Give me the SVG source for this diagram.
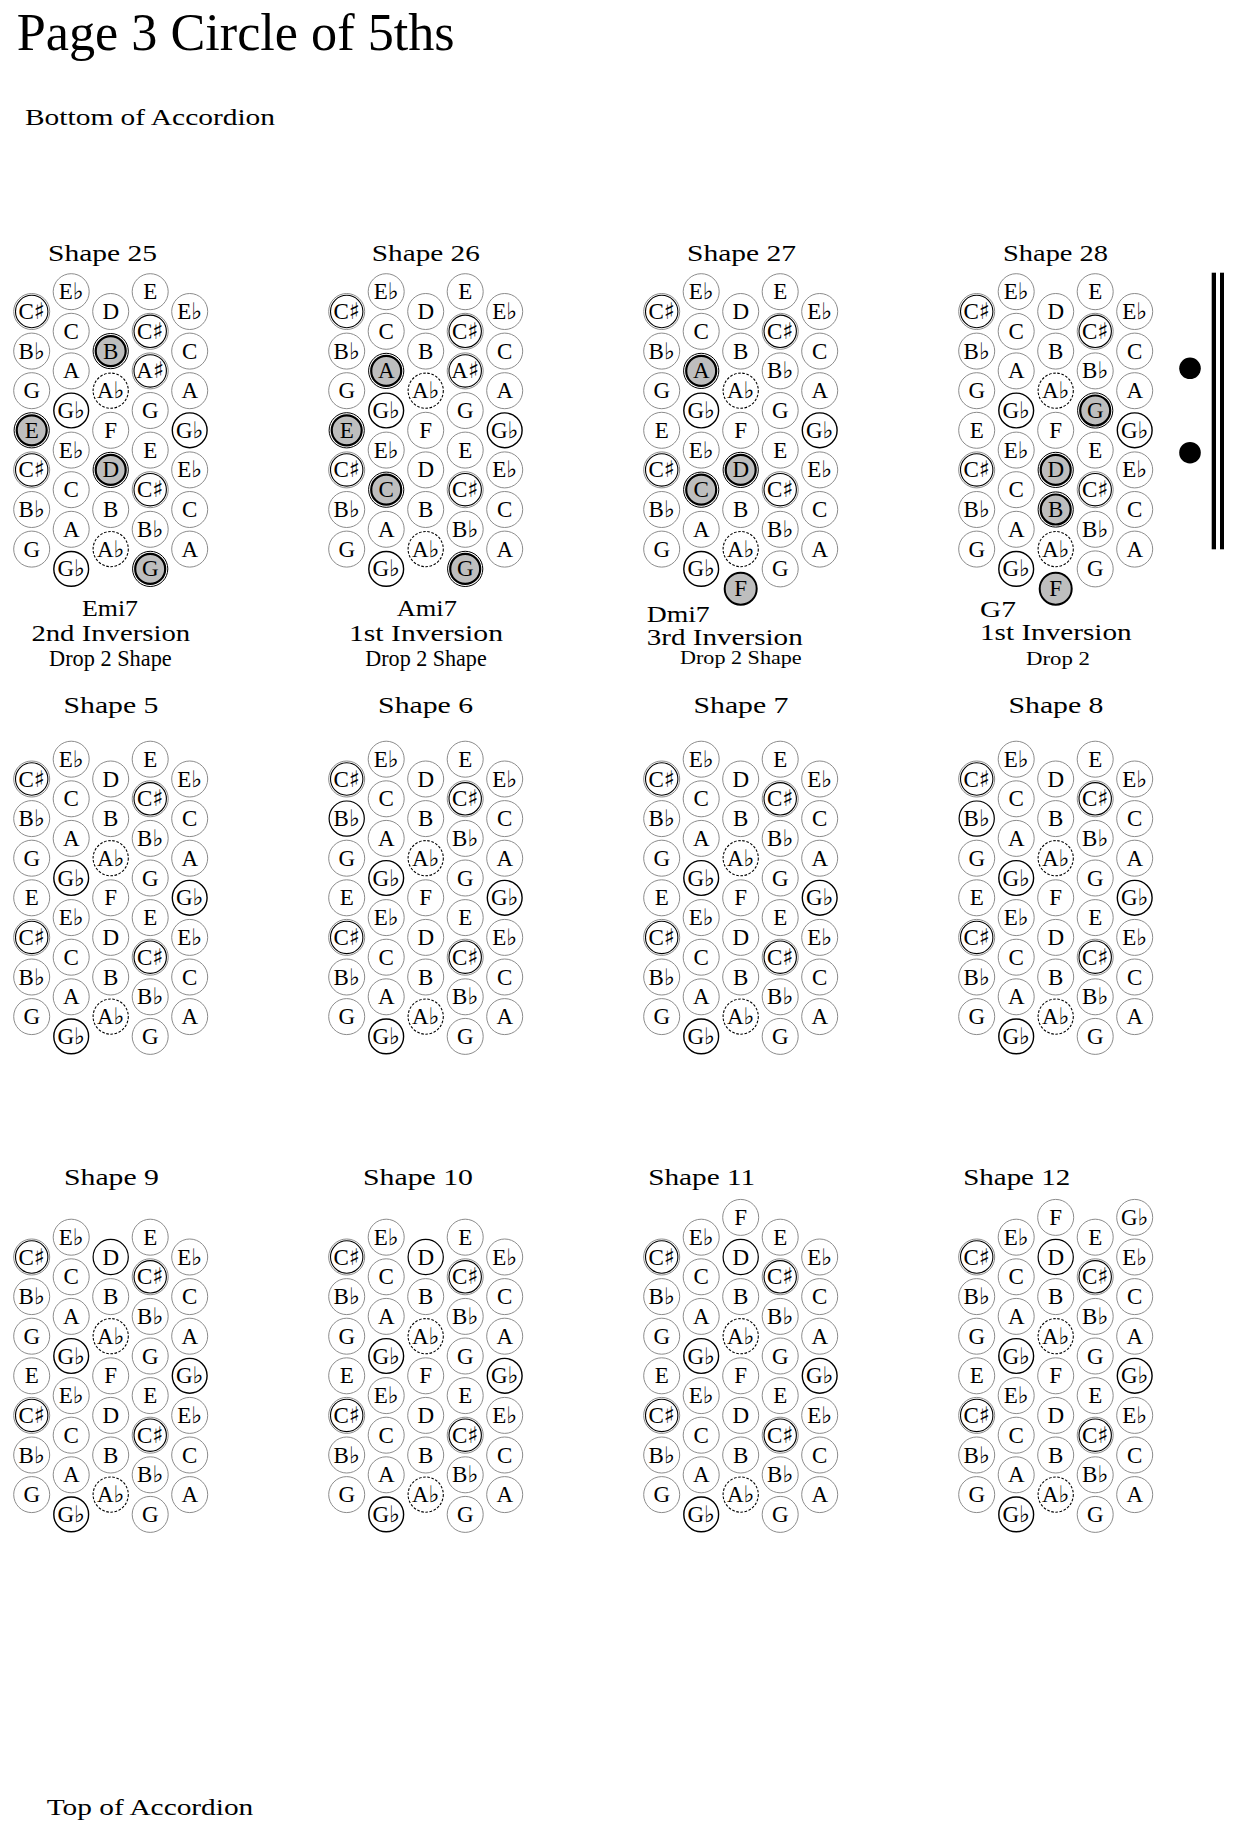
<svg xmlns="http://www.w3.org/2000/svg" width="1233" height="1831" viewBox="0 0 1233 1831">
<style>
.g circle{fill:#fff;stroke:#8c8c8c;stroke-width:1}
.g circle.i{fill:none;stroke:#000;stroke-width:1.1}
.g circle.ab{stroke:#000;stroke-width:1.1;stroke-dasharray:2.6 1.6}
.g circle.gb{stroke:#000;stroke-width:1.4}
.g circle.k{stroke:#000;stroke-width:1.2}
.g circle.ho{stroke:#000;stroke-width:1}
.g circle.hi{fill:#bebebe;stroke:#000;stroke-width:2.2}
.g circle.f{fill:#bebebe;stroke:#000;stroke-width:2}
.g text{font-family:"Liberation Serif",serif;font-size:23px;text-anchor:middle;fill:#000}
.g tspan{font-family:"DejaVu Sans",sans-serif;font-size:23px}
.t{font-family:"Liberation Serif",serif;font-size:23px;text-anchor:middle}
.l{font-family:"Liberation Serif",serif;font-size:24px}
.s{font-family:"Liberation Serif",serif;font-size:18px}
.dot{fill:#000}
</style>
<rect width="1233" height="1831" fill="#fff"/>
<g id="header">
<text x="16.7" y="50" font-family="Liberation Serif, serif" font-size="52" textLength="438" lengthAdjust="spacingAndGlyphs">Page 3 Circle of 5ths</text>
<text x="25" y="125" font-family="Liberation Serif, serif" font-size="23" textLength="250" lengthAdjust="spacingAndGlyphs">Bottom of Accordion</text>
<text x="46.7" y="1815" font-family="Liberation Serif, serif" font-size="24" textLength="206.6" lengthAdjust="spacingAndGlyphs">Top of Accordion</text>
</g>
<g id="bellows">
<rect x="1211.7" y="272.7" width="4.3" height="276.6" fill="#000"/>
<rect x="1220" y="272.7" width="4" height="276.6" fill="#000"/>
<circle class="dot" cx="1190" cy="368.3" r="10.8"/>
<circle class="dot" cx="1190" cy="452.7" r="10.8"/>
</g>

<g id="shape25">
<text class="t" x="102.5" y="260.5" textLength="109" lengthAdjust="spacingAndGlyphs">Shape 25</text>
<text class="t" x="110" y="615.6" font-size="24" textLength="56" lengthAdjust="spacingAndGlyphs">Emi7</text>
<text class="t" x="110.8" y="640.7" font-size="25" textLength="158.8" lengthAdjust="spacingAndGlyphs">2nd Inversion</text>
<text class="t" x="110.4" y="665.5" font-size="18" textLength="122.6" lengthAdjust="spacingAndGlyphs">Drop 2 Shape</text>
<g class="g" transform="translate(31.7,311.5)">
<circle cx="0" cy="0" r="18"/><circle class="i" cx="0" cy="0" r="16.2"/><text x="0" y="7.5">C<tspan>♯</tspan></text>
<circle cx="0" cy="39.6" r="18"/><text x="0" y="47.1">B<tspan>♭</tspan></text>
<circle cx="0" cy="79.2" r="18"/><text x="0" y="86.7">G</text>
<circle class="ho" cx="0" cy="118.8" r="17.6"/><circle class="hi" cx="0" cy="118.8" r="15"/><text x="0" y="126.3">E</text>
<circle cx="0" cy="158.4" r="18"/><circle class="i" cx="0" cy="158.4" r="16.2"/><text x="0" y="165.9">C<tspan>♯</tspan></text>
<circle cx="0" cy="198" r="18"/><text x="0" y="205.5">B<tspan>♭</tspan></text>
<circle cx="0" cy="237.6" r="18"/><text x="0" y="245.1">G</text>
<circle cx="39.5" cy="-19.8" r="18"/><text x="39.5" y="-12.3">E<tspan>♭</tspan></text>
<circle cx="39.5" cy="19.8" r="18"/><text x="39.5" y="27.3">C</text>
<circle cx="39.5" cy="59.4" r="18"/><text x="39.5" y="66.9">A</text>
<circle class="gb" cx="39.5" cy="99" r="17.4"/><text x="39.5" y="106.5">G<tspan>♭</tspan></text>
<circle cx="39.5" cy="138.6" r="18"/><text x="39.5" y="146.1">E<tspan>♭</tspan></text>
<circle cx="39.5" cy="178.2" r="18"/><text x="39.5" y="185.7">C</text>
<circle cx="39.5" cy="217.8" r="18"/><text x="39.5" y="225.3">A</text>
<circle class="gb" cx="39.5" cy="257.4" r="17.4"/><text x="39.5" y="264.9">G<tspan>♭</tspan></text>
<circle cx="79" cy="0" r="18"/><text x="79" y="7.5">D</text>
<circle class="ho" cx="79" cy="39.6" r="17.6"/><circle class="hi" cx="79" cy="39.6" r="15"/><text x="79" y="47.1">B</text>
<circle class="ab" cx="79" cy="79.2" r="17.6"/><text x="79" y="86.7">A<tspan>♭</tspan></text>
<circle cx="79" cy="118.8" r="18"/><text x="79" y="126.3">F</text>
<circle class="ho" cx="79" cy="158.4" r="17.6"/><circle class="hi" cx="79" cy="158.4" r="15"/><text x="79" y="165.9">D</text>
<circle cx="79" cy="198" r="18"/><text x="79" y="205.5">B</text>
<circle class="ab" cx="79" cy="237.6" r="17.6"/><text x="79" y="245.1">A<tspan>♭</tspan></text>
<circle cx="118.5" cy="-19.8" r="18"/><text x="118.5" y="-12.3">E</text>
<circle cx="118.5" cy="19.8" r="18"/><circle class="i" cx="118.5" cy="19.8" r="16.2"/><text x="118.5" y="27.3">C<tspan>♯</tspan></text>
<circle cx="118.5" cy="59.4" r="18"/><circle class="i" cx="118.5" cy="59.4" r="16.2"/><text x="118.5" y="66.9">A<tspan>♯</tspan></text>
<circle cx="118.5" cy="99" r="18"/><text x="118.5" y="106.5">G</text>
<circle cx="118.5" cy="138.6" r="18"/><text x="118.5" y="146.1">E</text>
<circle cx="118.5" cy="178.2" r="18"/><circle class="i" cx="118.5" cy="178.2" r="16.2"/><text x="118.5" y="185.7">C<tspan>♯</tspan></text>
<circle cx="118.5" cy="217.8" r="18"/><text x="118.5" y="225.3">B<tspan>♭</tspan></text>
<circle class="ho" cx="118.5" cy="257.4" r="17.6"/><circle class="hi" cx="118.5" cy="257.4" r="15"/><text x="118.5" y="264.9">G</text>
<circle cx="158" cy="0" r="18"/><text x="158" y="7.5">E<tspan>♭</tspan></text>
<circle cx="158" cy="39.6" r="18"/><text x="158" y="47.1">C</text>
<circle cx="158" cy="79.2" r="18"/><text x="158" y="86.7">A</text>
<circle class="gb" cx="158" cy="118.8" r="17.4"/><text x="158" y="126.3">G<tspan>♭</tspan></text>
<circle cx="158" cy="158.4" r="18"/><text x="158" y="165.9">E<tspan>♭</tspan></text>
<circle cx="158" cy="198" r="18"/><text x="158" y="205.5">C</text>
<circle cx="158" cy="237.6" r="18"/><text x="158" y="245.1">A</text>
</g>
</g>

<g id="shape26">
<text class="t" x="425.8" y="260.5" textLength="108" lengthAdjust="spacingAndGlyphs">Shape 26</text>
<text class="t" x="426.8" y="615.6" font-size="24" textLength="60" lengthAdjust="spacingAndGlyphs">Ami7</text>
<text class="t" x="426" y="640.7" font-size="25" textLength="154" lengthAdjust="spacingAndGlyphs">1st Inversion</text>
<text class="t" x="426" y="665.5" font-size="18" textLength="121.4" lengthAdjust="spacingAndGlyphs">Drop 2 Shape</text>
<g class="g" transform="translate(346.7,311.5)">
<circle cx="0" cy="0" r="18"/><circle class="i" cx="0" cy="0" r="16.2"/><text x="0" y="7.5">C<tspan>♯</tspan></text>
<circle cx="0" cy="39.6" r="18"/><text x="0" y="47.1">B<tspan>♭</tspan></text>
<circle cx="0" cy="79.2" r="18"/><text x="0" y="86.7">G</text>
<circle class="ho" cx="0" cy="118.8" r="17.6"/><circle class="hi" cx="0" cy="118.8" r="15"/><text x="0" y="126.3">E</text>
<circle cx="0" cy="158.4" r="18"/><circle class="i" cx="0" cy="158.4" r="16.2"/><text x="0" y="165.9">C<tspan>♯</tspan></text>
<circle cx="0" cy="198" r="18"/><text x="0" y="205.5">B<tspan>♭</tspan></text>
<circle cx="0" cy="237.6" r="18"/><text x="0" y="245.1">G</text>
<circle cx="39.5" cy="-19.8" r="18"/><text x="39.5" y="-12.3">E<tspan>♭</tspan></text>
<circle cx="39.5" cy="19.8" r="18"/><text x="39.5" y="27.3">C</text>
<circle class="ho" cx="39.5" cy="59.4" r="17.6"/><circle class="hi" cx="39.5" cy="59.4" r="15"/><text x="39.5" y="66.9">A</text>
<circle class="gb" cx="39.5" cy="99" r="17.4"/><text x="39.5" y="106.5">G<tspan>♭</tspan></text>
<circle cx="39.5" cy="138.6" r="18"/><text x="39.5" y="146.1">E<tspan>♭</tspan></text>
<circle class="ho" cx="39.5" cy="178.2" r="17.6"/><circle class="hi" cx="39.5" cy="178.2" r="15"/><text x="39.5" y="185.7">C</text>
<circle cx="39.5" cy="217.8" r="18"/><text x="39.5" y="225.3">A</text>
<circle class="gb" cx="39.5" cy="257.4" r="17.4"/><text x="39.5" y="264.9">G<tspan>♭</tspan></text>
<circle cx="79" cy="0" r="18"/><text x="79" y="7.5">D</text>
<circle cx="79" cy="39.6" r="18"/><text x="79" y="47.1">B</text>
<circle class="ab" cx="79" cy="79.2" r="17.6"/><text x="79" y="86.7">A<tspan>♭</tspan></text>
<circle cx="79" cy="118.8" r="18"/><text x="79" y="126.3">F</text>
<circle cx="79" cy="158.4" r="18"/><text x="79" y="165.9">D</text>
<circle cx="79" cy="198" r="18"/><text x="79" y="205.5">B</text>
<circle class="ab" cx="79" cy="237.6" r="17.6"/><text x="79" y="245.1">A<tspan>♭</tspan></text>
<circle cx="118.5" cy="-19.8" r="18"/><text x="118.5" y="-12.3">E</text>
<circle cx="118.5" cy="19.8" r="18"/><circle class="i" cx="118.5" cy="19.8" r="16.2"/><text x="118.5" y="27.3">C<tspan>♯</tspan></text>
<circle cx="118.5" cy="59.4" r="18"/><circle class="i" cx="118.5" cy="59.4" r="16.2"/><text x="118.5" y="66.9">A<tspan>♯</tspan></text>
<circle cx="118.5" cy="99" r="18"/><text x="118.5" y="106.5">G</text>
<circle cx="118.5" cy="138.6" r="18"/><text x="118.5" y="146.1">E</text>
<circle cx="118.5" cy="178.2" r="18"/><circle class="i" cx="118.5" cy="178.2" r="16.2"/><text x="118.5" y="185.7">C<tspan>♯</tspan></text>
<circle cx="118.5" cy="217.8" r="18"/><text x="118.5" y="225.3">B<tspan>♭</tspan></text>
<circle class="ho" cx="118.5" cy="257.4" r="17.6"/><circle class="hi" cx="118.5" cy="257.4" r="15"/><text x="118.5" y="264.9">G</text>
<circle cx="158" cy="0" r="18"/><text x="158" y="7.5">E<tspan>♭</tspan></text>
<circle cx="158" cy="39.6" r="18"/><text x="158" y="47.1">C</text>
<circle cx="158" cy="79.2" r="18"/><text x="158" y="86.7">A</text>
<circle class="gb" cx="158" cy="118.8" r="17.4"/><text x="158" y="126.3">G<tspan>♭</tspan></text>
<circle cx="158" cy="158.4" r="18"/><text x="158" y="165.9">E<tspan>♭</tspan></text>
<circle cx="158" cy="198" r="18"/><text x="158" y="205.5">C</text>
<circle cx="158" cy="237.6" r="18"/><text x="158" y="245.1">A</text>
</g>
</g>

<g id="shape27">
<text class="t" x="741.5" y="260.5" textLength="109" lengthAdjust="spacingAndGlyphs">Shape 27</text>
<text class="l" x="646.7" y="621.7" font-size="26" textLength="63" lengthAdjust="spacingAndGlyphs">Dmi7</text>
<text class="l" x="646.7" y="645" font-size="25" textLength="156" lengthAdjust="spacingAndGlyphs">3rd Inversion</text>
<text class="s" x="680" y="664" font-size="18" textLength="121.7" lengthAdjust="spacingAndGlyphs">Drop 2 Shape</text>
<g class="g" transform="translate(661.7,311.5)">
<circle cx="0" cy="0" r="18"/><circle class="i" cx="0" cy="0" r="16.2"/><text x="0" y="7.5">C<tspan>♯</tspan></text>
<circle cx="0" cy="39.6" r="18"/><text x="0" y="47.1">B<tspan>♭</tspan></text>
<circle cx="0" cy="79.2" r="18"/><text x="0" y="86.7">G</text>
<circle cx="0" cy="118.8" r="18"/><text x="0" y="126.3">E</text>
<circle cx="0" cy="158.4" r="18"/><circle class="i" cx="0" cy="158.4" r="16.2"/><text x="0" y="165.9">C<tspan>♯</tspan></text>
<circle cx="0" cy="198" r="18"/><text x="0" y="205.5">B<tspan>♭</tspan></text>
<circle cx="0" cy="237.6" r="18"/><text x="0" y="245.1">G</text>
<circle cx="39.5" cy="-19.8" r="18"/><text x="39.5" y="-12.3">E<tspan>♭</tspan></text>
<circle cx="39.5" cy="19.8" r="18"/><text x="39.5" y="27.3">C</text>
<circle class="ho" cx="39.5" cy="59.4" r="17.6"/><circle class="hi" cx="39.5" cy="59.4" r="15"/><text x="39.5" y="66.9">A</text>
<circle class="gb" cx="39.5" cy="99" r="17.4"/><text x="39.5" y="106.5">G<tspan>♭</tspan></text>
<circle cx="39.5" cy="138.6" r="18"/><text x="39.5" y="146.1">E<tspan>♭</tspan></text>
<circle class="ho" cx="39.5" cy="178.2" r="17.6"/><circle class="hi" cx="39.5" cy="178.2" r="15"/><text x="39.5" y="185.7">C</text>
<circle cx="39.5" cy="217.8" r="18"/><text x="39.5" y="225.3">A</text>
<circle class="gb" cx="39.5" cy="257.4" r="17.4"/><text x="39.5" y="264.9">G<tspan>♭</tspan></text>
<circle cx="79" cy="0" r="18"/><text x="79" y="7.5">D</text>
<circle cx="79" cy="39.6" r="18"/><text x="79" y="47.1">B</text>
<circle class="ab" cx="79" cy="79.2" r="17.6"/><text x="79" y="86.7">A<tspan>♭</tspan></text>
<circle cx="79" cy="118.8" r="18"/><text x="79" y="126.3">F</text>
<circle class="ho" cx="79" cy="158.4" r="17.6"/><circle class="hi" cx="79" cy="158.4" r="15"/><text x="79" y="165.9">D</text>
<circle cx="79" cy="198" r="18"/><text x="79" y="205.5">B</text>
<circle class="ab" cx="79" cy="237.6" r="17.6"/><text x="79" y="245.1">A<tspan>♭</tspan></text>
<circle class="f" cx="79" cy="277.2" r="16"/><text x="79" y="284.7">F</text>
<circle cx="118.5" cy="-19.8" r="18"/><text x="118.5" y="-12.3">E</text>
<circle cx="118.5" cy="19.8" r="18"/><circle class="i" cx="118.5" cy="19.8" r="16.2"/><text x="118.5" y="27.3">C<tspan>♯</tspan></text>
<circle cx="118.5" cy="59.4" r="18"/><text x="118.5" y="66.9">B<tspan>♭</tspan></text>
<circle cx="118.5" cy="99" r="18"/><text x="118.5" y="106.5">G</text>
<circle cx="118.5" cy="138.6" r="18"/><text x="118.5" y="146.1">E</text>
<circle cx="118.5" cy="178.2" r="18"/><circle class="i" cx="118.5" cy="178.2" r="16.2"/><text x="118.5" y="185.7">C<tspan>♯</tspan></text>
<circle cx="118.5" cy="217.8" r="18"/><text x="118.5" y="225.3">B<tspan>♭</tspan></text>
<circle cx="118.5" cy="257.4" r="18"/><text x="118.5" y="264.9">G</text>
<circle cx="158" cy="0" r="18"/><text x="158" y="7.5">E<tspan>♭</tspan></text>
<circle cx="158" cy="39.6" r="18"/><text x="158" y="47.1">C</text>
<circle cx="158" cy="79.2" r="18"/><text x="158" y="86.7">A</text>
<circle class="gb" cx="158" cy="118.8" r="17.4"/><text x="158" y="126.3">G<tspan>♭</tspan></text>
<circle cx="158" cy="158.4" r="18"/><text x="158" y="165.9">E<tspan>♭</tspan></text>
<circle cx="158" cy="198" r="18"/><text x="158" y="205.5">C</text>
<circle cx="158" cy="237.6" r="18"/><text x="158" y="245.1">A</text>
</g>
</g>

<g id="shape28">
<text class="t" x="1055.5" y="260.5" textLength="105" lengthAdjust="spacingAndGlyphs">Shape 28</text>
<text class="l" x="980" y="616.7" textLength="36" lengthAdjust="spacingAndGlyphs">G7</text>
<text class="l" x="980" y="640" textLength="151.7" lengthAdjust="spacingAndGlyphs">1st Inversion</text>
<text class="s" x="1026" y="665" textLength="64" lengthAdjust="spacingAndGlyphs">Drop 2</text>
<g class="g" transform="translate(976.7,311.5)">
<circle cx="0" cy="0" r="18"/><circle class="i" cx="0" cy="0" r="16.2"/><text x="0" y="7.5">C<tspan>♯</tspan></text>
<circle cx="0" cy="39.6" r="18"/><text x="0" y="47.1">B<tspan>♭</tspan></text>
<circle cx="0" cy="79.2" r="18"/><text x="0" y="86.7">G</text>
<circle cx="0" cy="118.8" r="18"/><text x="0" y="126.3">E</text>
<circle cx="0" cy="158.4" r="18"/><circle class="i" cx="0" cy="158.4" r="16.2"/><text x="0" y="165.9">C<tspan>♯</tspan></text>
<circle cx="0" cy="198" r="18"/><text x="0" y="205.5">B<tspan>♭</tspan></text>
<circle cx="0" cy="237.6" r="18"/><text x="0" y="245.1">G</text>
<circle cx="39.5" cy="-19.8" r="18"/><text x="39.5" y="-12.3">E<tspan>♭</tspan></text>
<circle cx="39.5" cy="19.8" r="18"/><text x="39.5" y="27.3">C</text>
<circle cx="39.5" cy="59.4" r="18"/><text x="39.5" y="66.9">A</text>
<circle class="gb" cx="39.5" cy="99" r="17.4"/><text x="39.5" y="106.5">G<tspan>♭</tspan></text>
<circle cx="39.5" cy="138.6" r="18"/><text x="39.5" y="146.1">E<tspan>♭</tspan></text>
<circle cx="39.5" cy="178.2" r="18"/><text x="39.5" y="185.7">C</text>
<circle cx="39.5" cy="217.8" r="18"/><text x="39.5" y="225.3">A</text>
<circle class="gb" cx="39.5" cy="257.4" r="17.4"/><text x="39.5" y="264.9">G<tspan>♭</tspan></text>
<circle cx="79" cy="0" r="18"/><text x="79" y="7.5">D</text>
<circle cx="79" cy="39.6" r="18"/><text x="79" y="47.1">B</text>
<circle class="ab" cx="79" cy="79.2" r="17.6"/><text x="79" y="86.7">A<tspan>♭</tspan></text>
<circle cx="79" cy="118.8" r="18"/><text x="79" y="126.3">F</text>
<circle class="ho" cx="79" cy="158.4" r="17.6"/><circle class="hi" cx="79" cy="158.4" r="15"/><text x="79" y="165.9">D</text>
<circle class="ho" cx="79" cy="198" r="17.6"/><circle class="hi" cx="79" cy="198" r="15"/><text x="79" y="205.5">B</text>
<circle class="ab" cx="79" cy="237.6" r="17.6"/><text x="79" y="245.1">A<tspan>♭</tspan></text>
<circle class="f" cx="79" cy="277.2" r="16"/><text x="79" y="284.7">F</text>
<circle cx="118.5" cy="-19.8" r="18"/><text x="118.5" y="-12.3">E</text>
<circle cx="118.5" cy="19.8" r="18"/><circle class="i" cx="118.5" cy="19.8" r="16.2"/><text x="118.5" y="27.3">C<tspan>♯</tspan></text>
<circle cx="118.5" cy="59.4" r="18"/><text x="118.5" y="66.9">B<tspan>♭</tspan></text>
<circle class="ho" cx="118.5" cy="99" r="17.6"/><circle class="hi" cx="118.5" cy="99" r="15"/><text x="118.5" y="106.5">G</text>
<circle cx="118.5" cy="138.6" r="18"/><text x="118.5" y="146.1">E</text>
<circle cx="118.5" cy="178.2" r="18"/><circle class="i" cx="118.5" cy="178.2" r="16.2"/><text x="118.5" y="185.7">C<tspan>♯</tspan></text>
<circle cx="118.5" cy="217.8" r="18"/><text x="118.5" y="225.3">B<tspan>♭</tspan></text>
<circle cx="118.5" cy="257.4" r="18"/><text x="118.5" y="264.9">G</text>
<circle cx="158" cy="0" r="18"/><text x="158" y="7.5">E<tspan>♭</tspan></text>
<circle cx="158" cy="39.6" r="18"/><text x="158" y="47.1">C</text>
<circle cx="158" cy="79.2" r="18"/><text x="158" y="86.7">A</text>
<circle class="gb" cx="158" cy="118.8" r="17.4"/><text x="158" y="126.3">G<tspan>♭</tspan></text>
<circle cx="158" cy="158.4" r="18"/><text x="158" y="165.9">E<tspan>♭</tspan></text>
<circle cx="158" cy="198" r="18"/><text x="158" y="205.5">C</text>
<circle cx="158" cy="237.6" r="18"/><text x="158" y="245.1">A</text>
</g>
</g>

<g id="shape5">
<text class="t" x="111" y="713.3" textLength="95" lengthAdjust="spacingAndGlyphs">Shape 5</text>
<g class="g" transform="translate(31.7,779)">
<circle cx="0" cy="0" r="18"/><circle class="i" cx="0" cy="0" r="16.2"/><text x="0" y="7.5">C<tspan>♯</tspan></text>
<circle cx="0" cy="39.6" r="18"/><text x="0" y="47.1">B<tspan>♭</tspan></text>
<circle cx="0" cy="79.2" r="18"/><text x="0" y="86.7">G</text>
<circle cx="0" cy="118.8" r="18"/><text x="0" y="126.3">E</text>
<circle cx="0" cy="158.4" r="18"/><circle class="i" cx="0" cy="158.4" r="16.2"/><text x="0" y="165.9">C<tspan>♯</tspan></text>
<circle cx="0" cy="198" r="18"/><text x="0" y="205.5">B<tspan>♭</tspan></text>
<circle cx="0" cy="237.6" r="18"/><text x="0" y="245.1">G</text>
<circle cx="39.5" cy="-19.8" r="18"/><text x="39.5" y="-12.3">E<tspan>♭</tspan></text>
<circle cx="39.5" cy="19.8" r="18"/><text x="39.5" y="27.3">C</text>
<circle cx="39.5" cy="59.4" r="18"/><text x="39.5" y="66.9">A</text>
<circle class="gb" cx="39.5" cy="99" r="17.4"/><text x="39.5" y="106.5">G<tspan>♭</tspan></text>
<circle cx="39.5" cy="138.6" r="18"/><text x="39.5" y="146.1">E<tspan>♭</tspan></text>
<circle cx="39.5" cy="178.2" r="18"/><text x="39.5" y="185.7">C</text>
<circle cx="39.5" cy="217.8" r="18"/><text x="39.5" y="225.3">A</text>
<circle class="gb" cx="39.5" cy="257.4" r="17.4"/><text x="39.5" y="264.9">G<tspan>♭</tspan></text>
<circle cx="79" cy="0" r="18"/><text x="79" y="7.5">D</text>
<circle cx="79" cy="39.6" r="18"/><text x="79" y="47.1">B</text>
<circle class="ab" cx="79" cy="79.2" r="17.6"/><text x="79" y="86.7">A<tspan>♭</tspan></text>
<circle cx="79" cy="118.8" r="18"/><text x="79" y="126.3">F</text>
<circle cx="79" cy="158.4" r="18"/><text x="79" y="165.9">D</text>
<circle cx="79" cy="198" r="18"/><text x="79" y="205.5">B</text>
<circle class="ab" cx="79" cy="237.6" r="17.6"/><text x="79" y="245.1">A<tspan>♭</tspan></text>
<circle cx="118.5" cy="-19.8" r="18"/><text x="118.5" y="-12.3">E</text>
<circle cx="118.5" cy="19.8" r="18"/><circle class="i" cx="118.5" cy="19.8" r="16.2"/><text x="118.5" y="27.3">C<tspan>♯</tspan></text>
<circle cx="118.5" cy="59.4" r="18"/><text x="118.5" y="66.9">B<tspan>♭</tspan></text>
<circle cx="118.5" cy="99" r="18"/><text x="118.5" y="106.5">G</text>
<circle cx="118.5" cy="138.6" r="18"/><text x="118.5" y="146.1">E</text>
<circle cx="118.5" cy="178.2" r="18"/><circle class="i" cx="118.5" cy="178.2" r="16.2"/><text x="118.5" y="185.7">C<tspan>♯</tspan></text>
<circle cx="118.5" cy="217.8" r="18"/><text x="118.5" y="225.3">B<tspan>♭</tspan></text>
<circle cx="118.5" cy="257.4" r="18"/><text x="118.5" y="264.9">G</text>
<circle cx="158" cy="0" r="18"/><text x="158" y="7.5">E<tspan>♭</tspan></text>
<circle cx="158" cy="39.6" r="18"/><text x="158" y="47.1">C</text>
<circle cx="158" cy="79.2" r="18"/><text x="158" y="86.7">A</text>
<circle class="gb" cx="158" cy="118.8" r="17.4"/><text x="158" y="126.3">G<tspan>♭</tspan></text>
<circle cx="158" cy="158.4" r="18"/><text x="158" y="165.9">E<tspan>♭</tspan></text>
<circle cx="158" cy="198" r="18"/><text x="158" y="205.5">C</text>
<circle cx="158" cy="237.6" r="18"/><text x="158" y="245.1">A</text>
</g>
</g>

<g id="shape6">
<text class="t" x="425.6" y="713.3" textLength="95" lengthAdjust="spacingAndGlyphs">Shape 6</text>
<g class="g" transform="translate(346.7,779)">
<circle cx="0" cy="0" r="18"/><circle class="i" cx="0" cy="0" r="16.2"/><text x="0" y="7.5">C<tspan>♯</tspan></text>
<circle class="k" cx="0" cy="39.6" r="17.6"/><text x="0" y="47.1">B<tspan>♭</tspan></text>
<circle cx="0" cy="79.2" r="18"/><text x="0" y="86.7">G</text>
<circle cx="0" cy="118.8" r="18"/><text x="0" y="126.3">E</text>
<circle cx="0" cy="158.4" r="18"/><circle class="i" cx="0" cy="158.4" r="16.2"/><text x="0" y="165.9">C<tspan>♯</tspan></text>
<circle cx="0" cy="198" r="18"/><text x="0" y="205.5">B<tspan>♭</tspan></text>
<circle cx="0" cy="237.6" r="18"/><text x="0" y="245.1">G</text>
<circle cx="39.5" cy="-19.8" r="18"/><text x="39.5" y="-12.3">E<tspan>♭</tspan></text>
<circle cx="39.5" cy="19.8" r="18"/><text x="39.5" y="27.3">C</text>
<circle cx="39.5" cy="59.4" r="18"/><text x="39.5" y="66.9">A</text>
<circle class="gb" cx="39.5" cy="99" r="17.4"/><text x="39.5" y="106.5">G<tspan>♭</tspan></text>
<circle cx="39.5" cy="138.6" r="18"/><text x="39.5" y="146.1">E<tspan>♭</tspan></text>
<circle cx="39.5" cy="178.2" r="18"/><text x="39.5" y="185.7">C</text>
<circle cx="39.5" cy="217.8" r="18"/><text x="39.5" y="225.3">A</text>
<circle class="gb" cx="39.5" cy="257.4" r="17.4"/><text x="39.5" y="264.9">G<tspan>♭</tspan></text>
<circle cx="79" cy="0" r="18"/><text x="79" y="7.5">D</text>
<circle cx="79" cy="39.6" r="18"/><text x="79" y="47.1">B</text>
<circle class="ab" cx="79" cy="79.2" r="17.6"/><text x="79" y="86.7">A<tspan>♭</tspan></text>
<circle cx="79" cy="118.8" r="18"/><text x="79" y="126.3">F</text>
<circle cx="79" cy="158.4" r="18"/><text x="79" y="165.9">D</text>
<circle cx="79" cy="198" r="18"/><text x="79" y="205.5">B</text>
<circle class="ab" cx="79" cy="237.6" r="17.6"/><text x="79" y="245.1">A<tspan>♭</tspan></text>
<circle cx="118.5" cy="-19.8" r="18"/><text x="118.5" y="-12.3">E</text>
<circle cx="118.5" cy="19.8" r="18"/><circle class="i" cx="118.5" cy="19.8" r="16.2"/><text x="118.5" y="27.3">C<tspan>♯</tspan></text>
<circle cx="118.5" cy="59.4" r="18"/><text x="118.5" y="66.9">B<tspan>♭</tspan></text>
<circle cx="118.5" cy="99" r="18"/><text x="118.5" y="106.5">G</text>
<circle cx="118.5" cy="138.6" r="18"/><text x="118.5" y="146.1">E</text>
<circle cx="118.5" cy="178.2" r="18"/><circle class="i" cx="118.5" cy="178.2" r="16.2"/><text x="118.5" y="185.7">C<tspan>♯</tspan></text>
<circle cx="118.5" cy="217.8" r="18"/><text x="118.5" y="225.3">B<tspan>♭</tspan></text>
<circle cx="118.5" cy="257.4" r="18"/><text x="118.5" y="264.9">G</text>
<circle cx="158" cy="0" r="18"/><text x="158" y="7.5">E<tspan>♭</tspan></text>
<circle cx="158" cy="39.6" r="18"/><text x="158" y="47.1">C</text>
<circle cx="158" cy="79.2" r="18"/><text x="158" y="86.7">A</text>
<circle class="gb" cx="158" cy="118.8" r="17.4"/><text x="158" y="126.3">G<tspan>♭</tspan></text>
<circle cx="158" cy="158.4" r="18"/><text x="158" y="165.9">E<tspan>♭</tspan></text>
<circle cx="158" cy="198" r="18"/><text x="158" y="205.5">C</text>
<circle cx="158" cy="237.6" r="18"/><text x="158" y="245.1">A</text>
</g>
</g>

<g id="shape7">
<text class="t" x="741" y="713.3" textLength="95" lengthAdjust="spacingAndGlyphs">Shape 7</text>
<g class="g" transform="translate(661.7,779)">
<circle cx="0" cy="0" r="18"/><circle class="i" cx="0" cy="0" r="16.2"/><text x="0" y="7.5">C<tspan>♯</tspan></text>
<circle cx="0" cy="39.6" r="18"/><text x="0" y="47.1">B<tspan>♭</tspan></text>
<circle cx="0" cy="79.2" r="18"/><text x="0" y="86.7">G</text>
<circle cx="0" cy="118.8" r="18"/><text x="0" y="126.3">E</text>
<circle cx="0" cy="158.4" r="18"/><circle class="i" cx="0" cy="158.4" r="16.2"/><text x="0" y="165.9">C<tspan>♯</tspan></text>
<circle cx="0" cy="198" r="18"/><text x="0" y="205.5">B<tspan>♭</tspan></text>
<circle cx="0" cy="237.6" r="18"/><text x="0" y="245.1">G</text>
<circle cx="39.5" cy="-19.8" r="18"/><text x="39.5" y="-12.3">E<tspan>♭</tspan></text>
<circle cx="39.5" cy="19.8" r="18"/><text x="39.5" y="27.3">C</text>
<circle cx="39.5" cy="59.4" r="18"/><text x="39.5" y="66.9">A</text>
<circle class="gb" cx="39.5" cy="99" r="17.4"/><text x="39.5" y="106.5">G<tspan>♭</tspan></text>
<circle cx="39.5" cy="138.6" r="18"/><text x="39.5" y="146.1">E<tspan>♭</tspan></text>
<circle cx="39.5" cy="178.2" r="18"/><text x="39.5" y="185.7">C</text>
<circle cx="39.5" cy="217.8" r="18"/><text x="39.5" y="225.3">A</text>
<circle class="gb" cx="39.5" cy="257.4" r="17.4"/><text x="39.5" y="264.9">G<tspan>♭</tspan></text>
<circle cx="79" cy="0" r="18"/><text x="79" y="7.5">D</text>
<circle cx="79" cy="39.6" r="18"/><text x="79" y="47.1">B</text>
<circle class="ab" cx="79" cy="79.2" r="17.6"/><text x="79" y="86.7">A<tspan>♭</tspan></text>
<circle cx="79" cy="118.8" r="18"/><text x="79" y="126.3">F</text>
<circle cx="79" cy="158.4" r="18"/><text x="79" y="165.9">D</text>
<circle cx="79" cy="198" r="18"/><text x="79" y="205.5">B</text>
<circle class="ab" cx="79" cy="237.6" r="17.6"/><text x="79" y="245.1">A<tspan>♭</tspan></text>
<circle cx="118.5" cy="-19.8" r="18"/><text x="118.5" y="-12.3">E</text>
<circle cx="118.5" cy="19.8" r="18"/><circle class="i" cx="118.5" cy="19.8" r="16.2"/><text x="118.5" y="27.3">C<tspan>♯</tspan></text>
<circle cx="118.5" cy="59.4" r="18"/><text x="118.5" y="66.9">B<tspan>♭</tspan></text>
<circle cx="118.5" cy="99" r="18"/><text x="118.5" y="106.5">G</text>
<circle cx="118.5" cy="138.6" r="18"/><text x="118.5" y="146.1">E</text>
<circle cx="118.5" cy="178.2" r="18"/><circle class="i" cx="118.5" cy="178.2" r="16.2"/><text x="118.5" y="185.7">C<tspan>♯</tspan></text>
<circle cx="118.5" cy="217.8" r="18"/><text x="118.5" y="225.3">B<tspan>♭</tspan></text>
<circle cx="118.5" cy="257.4" r="18"/><text x="118.5" y="264.9">G</text>
<circle cx="158" cy="0" r="18"/><text x="158" y="7.5">E<tspan>♭</tspan></text>
<circle cx="158" cy="39.6" r="18"/><text x="158" y="47.1">C</text>
<circle cx="158" cy="79.2" r="18"/><text x="158" y="86.7">A</text>
<circle class="gb" cx="158" cy="118.8" r="17.4"/><text x="158" y="126.3">G<tspan>♭</tspan></text>
<circle cx="158" cy="158.4" r="18"/><text x="158" y="165.9">E<tspan>♭</tspan></text>
<circle cx="158" cy="198" r="18"/><text x="158" y="205.5">C</text>
<circle cx="158" cy="237.6" r="18"/><text x="158" y="245.1">A</text>
</g>
</g>

<g id="shape8">
<text class="t" x="1056" y="713.3" textLength="95" lengthAdjust="spacingAndGlyphs">Shape 8</text>
<g class="g" transform="translate(976.7,779)">
<circle cx="0" cy="0" r="18"/><circle class="i" cx="0" cy="0" r="16.2"/><text x="0" y="7.5">C<tspan>♯</tspan></text>
<circle class="k" cx="0" cy="39.6" r="17.6"/><text x="0" y="47.1">B<tspan>♭</tspan></text>
<circle cx="0" cy="79.2" r="18"/><text x="0" y="86.7">G</text>
<circle cx="0" cy="118.8" r="18"/><text x="0" y="126.3">E</text>
<circle cx="0" cy="158.4" r="18"/><circle class="i" cx="0" cy="158.4" r="16.2"/><text x="0" y="165.9">C<tspan>♯</tspan></text>
<circle cx="0" cy="198" r="18"/><text x="0" y="205.5">B<tspan>♭</tspan></text>
<circle cx="0" cy="237.6" r="18"/><text x="0" y="245.1">G</text>
<circle cx="39.5" cy="-19.8" r="18"/><text x="39.5" y="-12.3">E<tspan>♭</tspan></text>
<circle cx="39.5" cy="19.8" r="18"/><text x="39.5" y="27.3">C</text>
<circle cx="39.5" cy="59.4" r="18"/><text x="39.5" y="66.9">A</text>
<circle class="gb" cx="39.5" cy="99" r="17.4"/><text x="39.5" y="106.5">G<tspan>♭</tspan></text>
<circle cx="39.5" cy="138.6" r="18"/><text x="39.5" y="146.1">E<tspan>♭</tspan></text>
<circle cx="39.5" cy="178.2" r="18"/><text x="39.5" y="185.7">C</text>
<circle cx="39.5" cy="217.8" r="18"/><text x="39.5" y="225.3">A</text>
<circle class="gb" cx="39.5" cy="257.4" r="17.4"/><text x="39.5" y="264.9">G<tspan>♭</tspan></text>
<circle cx="79" cy="0" r="18"/><text x="79" y="7.5">D</text>
<circle cx="79" cy="39.6" r="18"/><text x="79" y="47.1">B</text>
<circle class="ab" cx="79" cy="79.2" r="17.6"/><text x="79" y="86.7">A<tspan>♭</tspan></text>
<circle cx="79" cy="118.8" r="18"/><text x="79" y="126.3">F</text>
<circle cx="79" cy="158.4" r="18"/><text x="79" y="165.9">D</text>
<circle cx="79" cy="198" r="18"/><text x="79" y="205.5">B</text>
<circle class="ab" cx="79" cy="237.6" r="17.6"/><text x="79" y="245.1">A<tspan>♭</tspan></text>
<circle cx="118.5" cy="-19.8" r="18"/><text x="118.5" y="-12.3">E</text>
<circle cx="118.5" cy="19.8" r="18"/><circle class="i" cx="118.5" cy="19.8" r="16.2"/><text x="118.5" y="27.3">C<tspan>♯</tspan></text>
<circle cx="118.5" cy="59.4" r="18"/><text x="118.5" y="66.9">B<tspan>♭</tspan></text>
<circle cx="118.5" cy="99" r="18"/><text x="118.5" y="106.5">G</text>
<circle cx="118.5" cy="138.6" r="18"/><text x="118.5" y="146.1">E</text>
<circle cx="118.5" cy="178.2" r="18"/><circle class="i" cx="118.5" cy="178.2" r="16.2"/><text x="118.5" y="185.7">C<tspan>♯</tspan></text>
<circle cx="118.5" cy="217.8" r="18"/><text x="118.5" y="225.3">B<tspan>♭</tspan></text>
<circle cx="118.5" cy="257.4" r="18"/><text x="118.5" y="264.9">G</text>
<circle cx="158" cy="0" r="18"/><text x="158" y="7.5">E<tspan>♭</tspan></text>
<circle cx="158" cy="39.6" r="18"/><text x="158" y="47.1">C</text>
<circle cx="158" cy="79.2" r="18"/><text x="158" y="86.7">A</text>
<circle class="gb" cx="158" cy="118.8" r="17.4"/><text x="158" y="126.3">G<tspan>♭</tspan></text>
<circle cx="158" cy="158.4" r="18"/><text x="158" y="165.9">E<tspan>♭</tspan></text>
<circle cx="158" cy="198" r="18"/><text x="158" y="205.5">C</text>
<circle cx="158" cy="237.6" r="18"/><text x="158" y="245.1">A</text>
</g>
</g>

<g id="shape9">
<text class="t" x="111.5" y="1185" textLength="95" lengthAdjust="spacingAndGlyphs">Shape 9</text>
<g class="g" transform="translate(31.7,1257)">
<circle cx="0" cy="0" r="18"/><circle class="i" cx="0" cy="0" r="16.2"/><text x="0" y="7.5">C<tspan>♯</tspan></text>
<circle cx="0" cy="39.6" r="18"/><text x="0" y="47.1">B<tspan>♭</tspan></text>
<circle cx="0" cy="79.2" r="18"/><text x="0" y="86.7">G</text>
<circle cx="0" cy="118.8" r="18"/><text x="0" y="126.3">E</text>
<circle cx="0" cy="158.4" r="18"/><circle class="i" cx="0" cy="158.4" r="16.2"/><text x="0" y="165.9">C<tspan>♯</tspan></text>
<circle cx="0" cy="198" r="18"/><text x="0" y="205.5">B<tspan>♭</tspan></text>
<circle cx="0" cy="237.6" r="18"/><text x="0" y="245.1">G</text>
<circle cx="39.5" cy="-19.8" r="18"/><text x="39.5" y="-12.3">E<tspan>♭</tspan></text>
<circle cx="39.5" cy="19.8" r="18"/><text x="39.5" y="27.3">C</text>
<circle cx="39.5" cy="59.4" r="18"/><text x="39.5" y="66.9">A</text>
<circle class="gb" cx="39.5" cy="99" r="17.4"/><text x="39.5" y="106.5">G<tspan>♭</tspan></text>
<circle cx="39.5" cy="138.6" r="18"/><text x="39.5" y="146.1">E<tspan>♭</tspan></text>
<circle cx="39.5" cy="178.2" r="18"/><text x="39.5" y="185.7">C</text>
<circle cx="39.5" cy="217.8" r="18"/><text x="39.5" y="225.3">A</text>
<circle class="gb" cx="39.5" cy="257.4" r="17.4"/><text x="39.5" y="264.9">G<tspan>♭</tspan></text>
<circle class="k" cx="79" cy="0" r="17.6"/><text x="79" y="7.5">D</text>
<circle cx="79" cy="39.6" r="18"/><text x="79" y="47.1">B</text>
<circle class="ab" cx="79" cy="79.2" r="17.6"/><text x="79" y="86.7">A<tspan>♭</tspan></text>
<circle cx="79" cy="118.8" r="18"/><text x="79" y="126.3">F</text>
<circle cx="79" cy="158.4" r="18"/><text x="79" y="165.9">D</text>
<circle cx="79" cy="198" r="18"/><text x="79" y="205.5">B</text>
<circle class="ab" cx="79" cy="237.6" r="17.6"/><text x="79" y="245.1">A<tspan>♭</tspan></text>
<circle cx="118.5" cy="-19.8" r="18"/><text x="118.5" y="-12.3">E</text>
<circle cx="118.5" cy="19.8" r="18"/><circle class="i" cx="118.5" cy="19.8" r="16.2"/><text x="118.5" y="27.3">C<tspan>♯</tspan></text>
<circle cx="118.5" cy="59.4" r="18"/><text x="118.5" y="66.9">B<tspan>♭</tspan></text>
<circle cx="118.5" cy="99" r="18"/><text x="118.5" y="106.5">G</text>
<circle cx="118.5" cy="138.6" r="18"/><text x="118.5" y="146.1">E</text>
<circle cx="118.5" cy="178.2" r="18"/><circle class="i" cx="118.5" cy="178.2" r="16.2"/><text x="118.5" y="185.7">C<tspan>♯</tspan></text>
<circle cx="118.5" cy="217.8" r="18"/><text x="118.5" y="225.3">B<tspan>♭</tspan></text>
<circle cx="118.5" cy="257.4" r="18"/><text x="118.5" y="264.9">G</text>
<circle cx="158" cy="0" r="18"/><text x="158" y="7.5">E<tspan>♭</tspan></text>
<circle cx="158" cy="39.6" r="18"/><text x="158" y="47.1">C</text>
<circle cx="158" cy="79.2" r="18"/><text x="158" y="86.7">A</text>
<circle class="gb" cx="158" cy="118.8" r="17.4"/><text x="158" y="126.3">G<tspan>♭</tspan></text>
<circle cx="158" cy="158.4" r="18"/><text x="158" y="165.9">E<tspan>♭</tspan></text>
<circle cx="158" cy="198" r="18"/><text x="158" y="205.5">C</text>
<circle cx="158" cy="237.6" r="18"/><text x="158" y="245.1">A</text>
</g>
</g>

<g id="shape10">
<text class="t" x="418" y="1185" textLength="110" lengthAdjust="spacingAndGlyphs">Shape 10</text>
<g class="g" transform="translate(346.7,1257)">
<circle cx="0" cy="0" r="18"/><circle class="i" cx="0" cy="0" r="16.2"/><text x="0" y="7.5">C<tspan>♯</tspan></text>
<circle cx="0" cy="39.6" r="18"/><text x="0" y="47.1">B<tspan>♭</tspan></text>
<circle cx="0" cy="79.2" r="18"/><text x="0" y="86.7">G</text>
<circle cx="0" cy="118.8" r="18"/><text x="0" y="126.3">E</text>
<circle cx="0" cy="158.4" r="18"/><circle class="i" cx="0" cy="158.4" r="16.2"/><text x="0" y="165.9">C<tspan>♯</tspan></text>
<circle cx="0" cy="198" r="18"/><text x="0" y="205.5">B<tspan>♭</tspan></text>
<circle cx="0" cy="237.6" r="18"/><text x="0" y="245.1">G</text>
<circle cx="39.5" cy="-19.8" r="18"/><text x="39.5" y="-12.3">E<tspan>♭</tspan></text>
<circle cx="39.5" cy="19.8" r="18"/><text x="39.5" y="27.3">C</text>
<circle cx="39.5" cy="59.4" r="18"/><text x="39.5" y="66.9">A</text>
<circle class="gb" cx="39.5" cy="99" r="17.4"/><text x="39.5" y="106.5">G<tspan>♭</tspan></text>
<circle cx="39.5" cy="138.6" r="18"/><text x="39.5" y="146.1">E<tspan>♭</tspan></text>
<circle cx="39.5" cy="178.2" r="18"/><text x="39.5" y="185.7">C</text>
<circle cx="39.5" cy="217.8" r="18"/><text x="39.5" y="225.3">A</text>
<circle class="gb" cx="39.5" cy="257.4" r="17.4"/><text x="39.5" y="264.9">G<tspan>♭</tspan></text>
<circle class="k" cx="79" cy="0" r="17.6"/><text x="79" y="7.5">D</text>
<circle cx="79" cy="39.6" r="18"/><text x="79" y="47.1">B</text>
<circle class="ab" cx="79" cy="79.2" r="17.6"/><text x="79" y="86.7">A<tspan>♭</tspan></text>
<circle cx="79" cy="118.8" r="18"/><text x="79" y="126.3">F</text>
<circle cx="79" cy="158.4" r="18"/><text x="79" y="165.9">D</text>
<circle cx="79" cy="198" r="18"/><text x="79" y="205.5">B</text>
<circle class="ab" cx="79" cy="237.6" r="17.6"/><text x="79" y="245.1">A<tspan>♭</tspan></text>
<circle cx="118.5" cy="-19.8" r="18"/><text x="118.5" y="-12.3">E</text>
<circle cx="118.5" cy="19.8" r="18"/><circle class="i" cx="118.5" cy="19.8" r="16.2"/><text x="118.5" y="27.3">C<tspan>♯</tspan></text>
<circle cx="118.5" cy="59.4" r="18"/><text x="118.5" y="66.9">B<tspan>♭</tspan></text>
<circle cx="118.5" cy="99" r="18"/><text x="118.5" y="106.5">G</text>
<circle cx="118.5" cy="138.6" r="18"/><text x="118.5" y="146.1">E</text>
<circle cx="118.5" cy="178.2" r="18"/><circle class="i" cx="118.5" cy="178.2" r="16.2"/><text x="118.5" y="185.7">C<tspan>♯</tspan></text>
<circle cx="118.5" cy="217.8" r="18"/><text x="118.5" y="225.3">B<tspan>♭</tspan></text>
<circle cx="118.5" cy="257.4" r="18"/><text x="118.5" y="264.9">G</text>
<circle cx="158" cy="0" r="18"/><text x="158" y="7.5">E<tspan>♭</tspan></text>
<circle cx="158" cy="39.6" r="18"/><text x="158" y="47.1">C</text>
<circle cx="158" cy="79.2" r="18"/><text x="158" y="86.7">A</text>
<circle class="gb" cx="158" cy="118.8" r="17.4"/><text x="158" y="126.3">G<tspan>♭</tspan></text>
<circle cx="158" cy="158.4" r="18"/><text x="158" y="165.9">E<tspan>♭</tspan></text>
<circle cx="158" cy="198" r="18"/><text x="158" y="205.5">C</text>
<circle cx="158" cy="237.6" r="18"/><text x="158" y="245.1">A</text>
</g>
</g>

<g id="shape11">
<text class="t" x="701.7" y="1185" textLength="107" lengthAdjust="spacingAndGlyphs">Shape 11</text>
<g class="g" transform="translate(661.7,1257)">
<circle cx="0" cy="0" r="18"/><circle class="i" cx="0" cy="0" r="16.2"/><text x="0" y="7.5">C<tspan>♯</tspan></text>
<circle cx="0" cy="39.6" r="18"/><text x="0" y="47.1">B<tspan>♭</tspan></text>
<circle cx="0" cy="79.2" r="18"/><text x="0" y="86.7">G</text>
<circle cx="0" cy="118.8" r="18"/><text x="0" y="126.3">E</text>
<circle cx="0" cy="158.4" r="18"/><circle class="i" cx="0" cy="158.4" r="16.2"/><text x="0" y="165.9">C<tspan>♯</tspan></text>
<circle cx="0" cy="198" r="18"/><text x="0" y="205.5">B<tspan>♭</tspan></text>
<circle cx="0" cy="237.6" r="18"/><text x="0" y="245.1">G</text>
<circle cx="39.5" cy="-19.8" r="18"/><text x="39.5" y="-12.3">E<tspan>♭</tspan></text>
<circle cx="39.5" cy="19.8" r="18"/><text x="39.5" y="27.3">C</text>
<circle cx="39.5" cy="59.4" r="18"/><text x="39.5" y="66.9">A</text>
<circle class="gb" cx="39.5" cy="99" r="17.4"/><text x="39.5" y="106.5">G<tspan>♭</tspan></text>
<circle cx="39.5" cy="138.6" r="18"/><text x="39.5" y="146.1">E<tspan>♭</tspan></text>
<circle cx="39.5" cy="178.2" r="18"/><text x="39.5" y="185.7">C</text>
<circle cx="39.5" cy="217.8" r="18"/><text x="39.5" y="225.3">A</text>
<circle class="gb" cx="39.5" cy="257.4" r="17.4"/><text x="39.5" y="264.9">G<tspan>♭</tspan></text>
<circle cx="79" cy="-39.6" r="18"/><text x="79" y="-32.1">F</text>
<circle class="k" cx="79" cy="0" r="17.6"/><text x="79" y="7.5">D</text>
<circle cx="79" cy="39.6" r="18"/><text x="79" y="47.1">B</text>
<circle class="ab" cx="79" cy="79.2" r="17.6"/><text x="79" y="86.7">A<tspan>♭</tspan></text>
<circle cx="79" cy="118.8" r="18"/><text x="79" y="126.3">F</text>
<circle cx="79" cy="158.4" r="18"/><text x="79" y="165.9">D</text>
<circle cx="79" cy="198" r="18"/><text x="79" y="205.5">B</text>
<circle class="ab" cx="79" cy="237.6" r="17.6"/><text x="79" y="245.1">A<tspan>♭</tspan></text>
<circle cx="118.5" cy="-19.8" r="18"/><text x="118.5" y="-12.3">E</text>
<circle cx="118.5" cy="19.8" r="18"/><circle class="i" cx="118.5" cy="19.8" r="16.2"/><text x="118.5" y="27.3">C<tspan>♯</tspan></text>
<circle cx="118.5" cy="59.4" r="18"/><text x="118.5" y="66.9">B<tspan>♭</tspan></text>
<circle cx="118.5" cy="99" r="18"/><text x="118.5" y="106.5">G</text>
<circle cx="118.5" cy="138.6" r="18"/><text x="118.5" y="146.1">E</text>
<circle cx="118.5" cy="178.2" r="18"/><circle class="i" cx="118.5" cy="178.2" r="16.2"/><text x="118.5" y="185.7">C<tspan>♯</tspan></text>
<circle cx="118.5" cy="217.8" r="18"/><text x="118.5" y="225.3">B<tspan>♭</tspan></text>
<circle cx="118.5" cy="257.4" r="18"/><text x="118.5" y="264.9">G</text>
<circle cx="158" cy="0" r="18"/><text x="158" y="7.5">E<tspan>♭</tspan></text>
<circle cx="158" cy="39.6" r="18"/><text x="158" y="47.1">C</text>
<circle cx="158" cy="79.2" r="18"/><text x="158" y="86.7">A</text>
<circle class="gb" cx="158" cy="118.8" r="17.4"/><text x="158" y="126.3">G<tspan>♭</tspan></text>
<circle cx="158" cy="158.4" r="18"/><text x="158" y="165.9">E<tspan>♭</tspan></text>
<circle cx="158" cy="198" r="18"/><text x="158" y="205.5">C</text>
<circle cx="158" cy="237.6" r="18"/><text x="158" y="245.1">A</text>
</g>
</g>

<g id="shape12">
<text class="t" x="1016.7" y="1185" textLength="107" lengthAdjust="spacingAndGlyphs">Shape 12</text>
<g class="g" transform="translate(976.7,1257)">
<circle cx="0" cy="0" r="18"/><circle class="i" cx="0" cy="0" r="16.2"/><text x="0" y="7.5">C<tspan>♯</tspan></text>
<circle cx="0" cy="39.6" r="18"/><text x="0" y="47.1">B<tspan>♭</tspan></text>
<circle cx="0" cy="79.2" r="18"/><text x="0" y="86.7">G</text>
<circle cx="0" cy="118.8" r="18"/><text x="0" y="126.3">E</text>
<circle cx="0" cy="158.4" r="18"/><circle class="i" cx="0" cy="158.4" r="16.2"/><text x="0" y="165.9">C<tspan>♯</tspan></text>
<circle cx="0" cy="198" r="18"/><text x="0" y="205.5">B<tspan>♭</tspan></text>
<circle cx="0" cy="237.6" r="18"/><text x="0" y="245.1">G</text>
<circle cx="39.5" cy="-19.8" r="18"/><text x="39.5" y="-12.3">E<tspan>♭</tspan></text>
<circle cx="39.5" cy="19.8" r="18"/><text x="39.5" y="27.3">C</text>
<circle cx="39.5" cy="59.4" r="18"/><text x="39.5" y="66.9">A</text>
<circle class="gb" cx="39.5" cy="99" r="17.4"/><text x="39.5" y="106.5">G<tspan>♭</tspan></text>
<circle cx="39.5" cy="138.6" r="18"/><text x="39.5" y="146.1">E<tspan>♭</tspan></text>
<circle cx="39.5" cy="178.2" r="18"/><text x="39.5" y="185.7">C</text>
<circle cx="39.5" cy="217.8" r="18"/><text x="39.5" y="225.3">A</text>
<circle class="gb" cx="39.5" cy="257.4" r="17.4"/><text x="39.5" y="264.9">G<tspan>♭</tspan></text>
<circle cx="79" cy="-39.6" r="18"/><text x="79" y="-32.1">F</text>
<circle class="k" cx="79" cy="0" r="17.6"/><text x="79" y="7.5">D</text>
<circle cx="79" cy="39.6" r="18"/><text x="79" y="47.1">B</text>
<circle class="ab" cx="79" cy="79.2" r="17.6"/><text x="79" y="86.7">A<tspan>♭</tspan></text>
<circle cx="79" cy="118.8" r="18"/><text x="79" y="126.3">F</text>
<circle cx="79" cy="158.4" r="18"/><text x="79" y="165.9">D</text>
<circle cx="79" cy="198" r="18"/><text x="79" y="205.5">B</text>
<circle class="ab" cx="79" cy="237.6" r="17.6"/><text x="79" y="245.1">A<tspan>♭</tspan></text>
<circle cx="118.5" cy="-19.8" r="18"/><text x="118.5" y="-12.3">E</text>
<circle cx="118.5" cy="19.8" r="18"/><circle class="i" cx="118.5" cy="19.8" r="16.2"/><text x="118.5" y="27.3">C<tspan>♯</tspan></text>
<circle cx="118.5" cy="59.4" r="18"/><text x="118.5" y="66.9">B<tspan>♭</tspan></text>
<circle cx="118.5" cy="99" r="18"/><text x="118.5" y="106.5">G</text>
<circle cx="118.5" cy="138.6" r="18"/><text x="118.5" y="146.1">E</text>
<circle cx="118.5" cy="178.2" r="18"/><circle class="i" cx="118.5" cy="178.2" r="16.2"/><text x="118.5" y="185.7">C<tspan>♯</tspan></text>
<circle cx="118.5" cy="217.8" r="18"/><text x="118.5" y="225.3">B<tspan>♭</tspan></text>
<circle cx="118.5" cy="257.4" r="18"/><text x="118.5" y="264.9">G</text>
<circle cx="158" cy="-39.6" r="18"/><text x="158" y="-32.1">G<tspan>♭</tspan></text>
<circle cx="158" cy="0" r="18"/><text x="158" y="7.5">E<tspan>♭</tspan></text>
<circle cx="158" cy="39.6" r="18"/><text x="158" y="47.1">C</text>
<circle cx="158" cy="79.2" r="18"/><text x="158" y="86.7">A</text>
<circle class="gb" cx="158" cy="118.8" r="17.4"/><text x="158" y="126.3">G<tspan>♭</tspan></text>
<circle cx="158" cy="158.4" r="18"/><text x="158" y="165.9">E<tspan>♭</tspan></text>
<circle cx="158" cy="198" r="18"/><text x="158" y="205.5">C</text>
<circle cx="158" cy="237.6" r="18"/><text x="158" y="245.1">A</text>
</g>
</g>
</svg>
